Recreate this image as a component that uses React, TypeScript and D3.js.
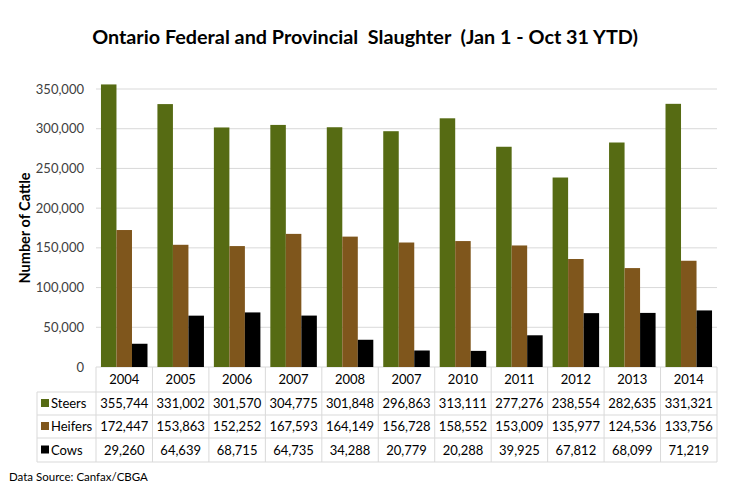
import React from 'react';
import * as d3 from 'd3';

// Chart data
const years = ['2004', '2005', '2006', '2007', '2008', '2007', '2010', '2011', '2012', '2013', '2014'];
const seriesNames = ['Steers', 'Heifers', 'Cows'];
const steers = [355744, 331002, 301570, 304775, 301848, 296863, 313111, 277276, 238554, 282635, 331321];
const heifers = [172447, 153863, 152252, 167593, 164149, 156728, 158552, 153009, 135977, 124536, 133756];
const cows = [29260, 64639, 68715, 64735, 34288, 20779, 20288, 39925, 67812, 68099, 71219];
const yTicks = [0, 50000, 100000, 150000, 200000, 250000, 300000, 350000];
const colors = ['#566b13', '#7f561c', '#000000'];

const W = 731;
const H = 498;
const FONT = 'Lato, "Open Sans", sans-serif';

export default function App() {
  const series = [steers, heifers, cows];
  const left = 96;
  const right = 717;
  const top = 89;
  const bottom = 367;
  const tableLeft = 37;
  const rowLines = [392, 415, 438, 462];

  const x0 = d3
    .scaleBand<number>()
    .domain(d3.range(years.length))
    .range([left, right])
    .paddingInner(0.176)
    .paddingOuter(0.088);
  const x1 = d3
    .scaleBand<number>()
    .domain(d3.range(series.length))
    .range([0, x0.bandwidth()]);
  const y = d3.scaleLinear().domain([0, 350000]).range([bottom, top]);
  const step = x0.step();
  const colLeft = (i: number) => left + i * step;
  const fmt = d3.format(',');

  return (
    <div style={{position: 'fixed', left: 0, top: 0}}>
      <svg width={W} height={H} style={{display: 'block', background: '#fff'}} fontFamily={FONT}>
        <text
          x={365}
          y={44}
          textAnchor="middle"
          fontSize={19.8}
          fontWeight="bold"
          fill="#000"
          style={{whiteSpace: 'pre'}}
        >
          {'Ontario Federal and Provincial  Slaughter  (Jan 1 - Oct 31 YTD)'}
        </text>

        {/* grid lines */}
        {yTicks.map((t) => (
          <line key={t} x1={left} x2={right} y1={y(t)} y2={y(t)} stroke="#d9d9d9" strokeWidth={1} />
        ))}
        {yTicks.map((t) => (
          <text key={'l' + t} x={84} y={y(t)} dy="0.35em" textAnchor="end" fontSize={13} fill="#404040">
            {fmt(t)}
          </text>
        ))}
        <text
          transform={`translate(30,${(top + bottom) / 2}) rotate(-90)`}
          textAnchor="middle"
          fontSize={14.5}
          fontWeight="bold"
          fill="#000"
        >
          Number of Cattle
        </text>

        {/* bars */}
        {years.map((_, i) => (
          <g key={i} transform={`translate(${x0(i)},0)`}>
            {series.map((s, j) => (
              <rect
                key={j}
                x={x1(j)}
                y={y(s[i])}
                width={x1.bandwidth()}
                height={bottom - y(s[i])}
                fill={colors[j]}
              />
            ))}
          </g>
        ))}

        {/* data table */}
        <g stroke="#d9d9d9" strokeWidth={1}>
          {rowLines.map((ry) => (
            <line key={ry} x1={tableLeft} x2={right} y1={ry} y2={ry} />
          ))}
          <line x1={tableLeft} x2={tableLeft} y1={rowLines[0]} y2={rowLines[3]} />
          {d3.range(years.length + 1).map((i) => (
            <line key={i} x1={colLeft(i)} x2={colLeft(i)} y1={bottom} y2={rowLines[3]} />
          ))}
        </g>
        {years.map((yr, i) => (
          <text key={i} x={colLeft(i) + step / 2} y={379} dy="0.35em" textAnchor="middle" fontSize={13} fill="#000">
            {yr}
          </text>
        ))}
        {series.map((s, j) => {
          const cy = (rowLines[j] + rowLines[j + 1]) / 2;
          return (
            <g key={j}>
              <rect x={41} y={cy - 4.5} width={8} height={8} fill={colors[j]} />
              <text x={51} y={cy} dy="0.35em" fontSize={13} fill="#000">
                {seriesNames[j]}
              </text>
              {s.map((v, i) => (
                <text key={i} x={colLeft(i) + step / 2} y={cy} dy="0.35em" textAnchor="middle" fontSize={13} fill="#000">
                  {fmt(v)}
                </text>
              ))}
            </g>
          );
        })}

        <text x={9} y={481} fontSize={11.5} fill="#000">
          Data Source: Canfax/CBGA
        </text>
      </svg>
    </div>
  );
}
